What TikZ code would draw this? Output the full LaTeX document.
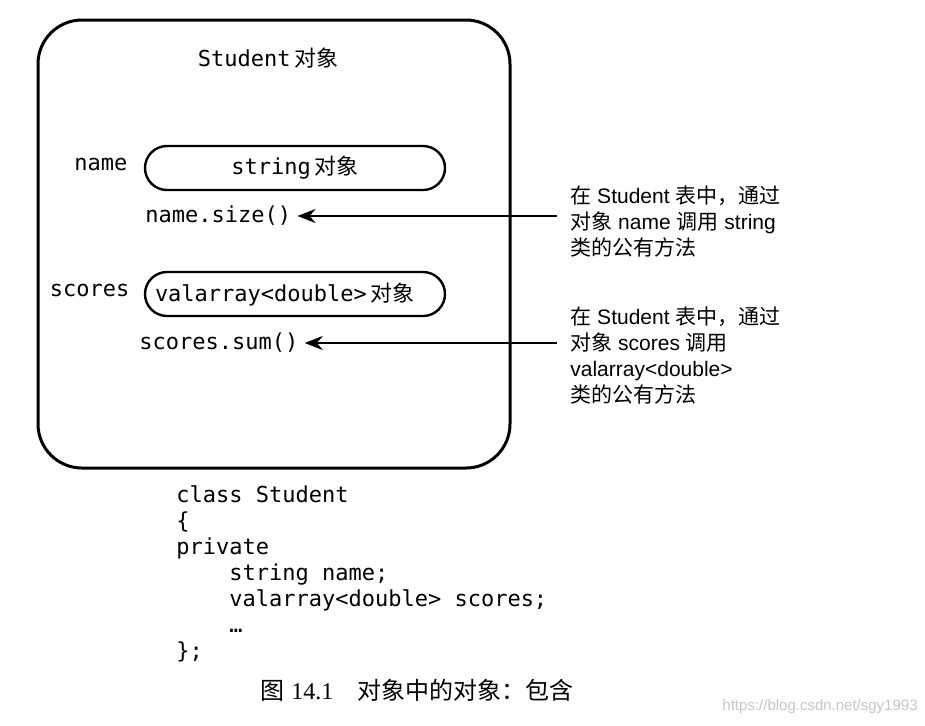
\documentclass[tikz,border=0pt]{standalone}
\usepackage{fontspec}
\setmainfont{Liberation Sans}
\setmonofont{DejaVu Sans Mono}
\newfontfamily\cjk{Noto Sans CJK SC}
\newfontfamily\serifnum{Liberation Serif}
\usetikzlibrary{positioning, arrows.meta, calc}

\tikzset{
  codefont/.style={font=\ttfamily\fontsize{11}{13}\selectfont},
  objbox/.style={draw, line width=1.2pt, rounded corners=11pt, minimum width=150pt, minimum height=22pt, inner sep=0pt, codefont},
  code/.style={codefont, inner sep=0pt},
  note/.style={font=\fontsize{10.5}{13}\selectfont, align=left, inner sep=0pt, anchor=north west},
  pointer/.style={-{Stealth[length=9pt,width=7pt]}, line width=1.2pt, shorten >=3pt},
}

\begin{document}
\begin{tikzpicture}[x=0.5pt, y=-0.5pt]
  \useasboundingbox (0,0) rectangle (925,725);

  % the Student object
  \draw[line width=1.5pt, rounded corners=22pt] (38,20) rectangle (510,468);
  \node[code] (title) at (268,58) {Student\,{\cjk 对象}};

  % member objects
  \node[objbox] (strobj) at (295,168) {string\,{\cjk 对象}};
  \node[code, left=8pt of strobj, yshift=2pt] (namelbl) {name};
  \node[objbox, text width=140pt, align=left] (valobj) at (295,294) {valarray<double>\,{\cjk 对象}};
  \node[code, left=7pt of valobj, yshift=2pt] (scorelbl) {scores};

  \node[code, anchor=west] (size) at (145,216) {name.size()};
  \node[code, anchor=west] (sum) at (139,343) {scores.sum()};

  % notes on the right
  \node[note] (note1) at (570,185) {{\cjk 在} Student {\cjk 表中，通过}\\{\cjk 对象} name {\cjk 调用} string\\{\cjk 类的公有方法}};
  \node[note] (note2) at (570,306) {{\cjk 在} Student {\cjk 表中，通过}\\{\cjk 对象} scores {\cjk 调用}\\valarray<double>\\{\cjk 类的公有方法}};

  \coordinate (src1) at (557,216);
  \coordinate (src2) at (557,343);
  \draw[pointer] (src1) -- (size);
  \draw[pointer] (src2) -- (sum);

  % class declaration
  \node[code, align=left, anchor=north west] (decl) at (176,485) {class Student\\\{\\private\\\phantom{xxxx}string name;\\\phantom{xxxx}valarray<double> scores;\\\phantom{xxxx}…\\\};};

  \node[font=\fontsize{12}{14}\selectfont, inner sep=0pt] (caption) at (417,690) {{\cjk 图} {\serifnum 14.1}\quad{\cjk 对象中的对象：包含}};
  \node[font=\fontsize{7.5}{9}\selectfont, text=gray!45, anchor=east, inner sep=0pt] (mark) at (918,707) {https://blog.csdn.net/sgy1993};
\end{tikzpicture}
\end{document}
